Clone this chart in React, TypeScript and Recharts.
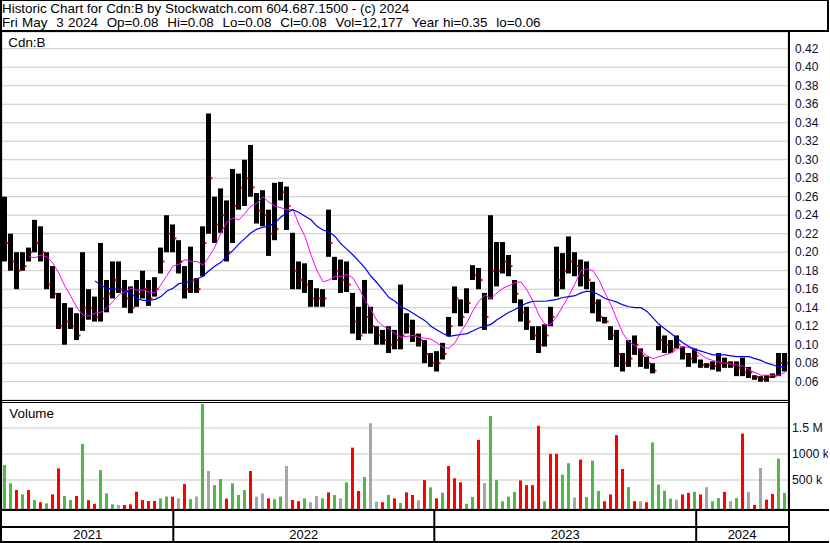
import React from 'react';
import { ComposedChart, Bar, Line, Scatter, XAxis, YAxis, CartesianGrid } from 'recharts';

const FONT = '"Liberation Sans", Arial, sans-serif';

const titleLine = 'Historic Chart for Cdn:B by Stockwatch.com 604.687.1500 - (c) 2024';
const quoteLine = 'Fri May  3 2024  Op=0.08  Hi=0.08  Lo=0.08  Cl=0.08  Vol=12,177  Year hi=0.35  lo=0.06';
const symbolLabel = 'Cdn:B';
const volumeLabel = 'Volume';

const priceHigh = [
  0.26, 0.22, 0.20, 0.20, 0.205, 0.235, 0.228, 0.20, 0.185, 0.156,
  0.145, 0.14, 0.134, 0.20, 0.16, 0.152, 0.21, 0.17, 0.19, 0.19,
  0.17, 0.163, 0.17, 0.18, 0.17, 0.173, 0.205, 0.24, 0.23, 0.213,
  0.185, 0.206, 0.172, 0.228, 0.35, 0.26, 0.269, 0.256, 0.29, 0.285,
  0.30, 0.316, 0.264, 0.267, 0.246, 0.275, 0.276, 0.271, 0.221, 0.19,
  0.188, 0.17, 0.161, 0.16, 0.246, 0.195, 0.192, 0.19, 0.156, 0.141,
  0.17, 0.141, 0.12, 0.116, 0.12, 0.116, 0.165, 0.134, 0.127, 0.112,
  0.105, 0.091, 0.093, 0.102, 0.13, 0.163, 0.149, 0.161, 0.186, 0.183,
  0.156, 0.24, 0.211, 0.211, 0.197, 0.17, 0.149, 0.141, 0.12, 0.12,
  0.122, 0.141, 0.206, 0.199, 0.217, 0.20, 0.192, 0.19, 0.168, 0.149,
  0.13, 0.12, 0.116, 0.091, 0.105, 0.11, 0.096, 0.087, 0.08, 0.12,
  0.11, 0.105, 0.11, 0.098, 0.091, 0.096, 0.084, 0.08, 0.082, 0.091,
  0.086, 0.082, 0.082, 0.086, 0.076, 0.067, 0.066, 0.067, 0.069, 0.091,
  0.091,
];

const priceLow = [
  0.19, 0.18, 0.16, 0.18, 0.19, 0.20, 0.19, 0.16, 0.15, 0.117,
  0.10, 0.117, 0.105, 0.115, 0.127, 0.125, 0.125, 0.135, 0.15, 0.156,
  0.14, 0.134, 0.141, 0.15, 0.142, 0.152, 0.177, 0.20, 0.20, 0.177,
  0.15, 0.156, 0.156, 0.174, 0.22, 0.21, 0.221, 0.19, 0.21, 0.246,
  0.25, 0.26, 0.231, 0.228, 0.196, 0.213, 0.256, 0.224, 0.16, 0.16,
  0.156, 0.141, 0.141, 0.141, 0.195, 0.17, 0.156, 0.157, 0.112, 0.105,
  0.112, 0.112, 0.10, 0.10, 0.091, 0.095, 0.095, 0.112, 0.103, 0.098,
  0.08, 0.076, 0.071, 0.084, 0.109, 0.134, 0.12, 0.134, 0.17, 0.16,
  0.116, 0.149, 0.163, 0.177, 0.174, 0.145, 0.125, 0.116, 0.105, 0.091,
  0.098, 0.12, 0.152, 0.16, 0.177, 0.174, 0.163, 0.16, 0.134, 0.125,
  0.123, 0.105, 0.076, 0.071, 0.076, 0.089, 0.076, 0.074, 0.069, 0.094,
  0.091, 0.091, 0.096, 0.084, 0.076, 0.08, 0.075, 0.075, 0.073, 0.071,
  0.075, 0.075, 0.066, 0.066, 0.064, 0.062, 0.06, 0.06, 0.064, 0.066,
  0.071,
];

const priceClose = [
  0.21, 0.19, 0.18, 0.185, 0.20, 0.21, 0.20, 0.165, 0.155, 0.12,
  0.125, 0.12, 0.11, 0.14, 0.14, 0.13, 0.15, 0.155, 0.17, 0.16,
  0.15, 0.14, 0.155, 0.16, 0.15, 0.16, 0.19, 0.22, 0.215, 0.19,
  0.16, 0.17, 0.16, 0.21, 0.28, 0.23, 0.24, 0.20, 0.25, 0.27,
  0.28, 0.27, 0.245, 0.24, 0.22, 0.225, 0.265, 0.25, 0.18, 0.17,
  0.165, 0.15, 0.15, 0.15, 0.21, 0.18, 0.17, 0.165, 0.125, 0.11,
  0.13, 0.12, 0.11, 0.105, 0.10, 0.105, 0.11, 0.12, 0.11, 0.105,
  0.09, 0.08, 0.08, 0.09, 0.12, 0.15, 0.13, 0.145, 0.175, 0.17,
  0.13, 0.18, 0.18, 0.19, 0.185, 0.155, 0.135, 0.125, 0.11, 0.10,
  0.11, 0.13, 0.17, 0.18, 0.19, 0.185, 0.175, 0.17, 0.145, 0.13,
  0.125, 0.11, 0.09, 0.08, 0.085, 0.10, 0.088, 0.08, 0.072, 0.105,
  0.10, 0.095, 0.10, 0.09, 0.085, 0.088, 0.078, 0.078, 0.077, 0.08,
  0.08, 0.078, 0.075, 0.07, 0.07, 0.065, 0.063, 0.065, 0.066, 0.08,
  0.08,
];

const maFast = [
  null, null, null, null, 0.195, 0.194, 0.197, 0.195, 0.188, 0.177,
  0.163, 0.152, 0.14, 0.132, 0.131, 0.134, 0.135, 0.14, 0.147, 0.154,
  0.157, 0.161, 0.159, 0.159, 0.157, 0.156, 0.165, 0.175, 0.185, 0.187,
  0.192, 0.19, 0.19, 0.186, 0.195, 0.206, 0.221, 0.233, 0.237, 0.235,
  0.242, 0.25, 0.253, 0.26, 0.254, 0.25, 0.248, 0.246, 0.246, 0.23,
  0.217, 0.197, 0.18, 0.168, 0.17, 0.174, 0.174, 0.176, 0.172, 0.161,
  0.148, 0.138, 0.126, 0.12, 0.117, 0.112, 0.108, 0.109, 0.11, 0.108,
  0.107, 0.106, 0.102, 0.097, 0.096, 0.102, 0.114, 0.124, 0.137, 0.147,
  0.154, 0.15, 0.156, 0.161, 0.164, 0.167, 0.168, 0.159, 0.147, 0.132,
  0.122, 0.122, 0.131, 0.142, 0.153, 0.166, 0.18, 0.182, 0.18, 0.17,
  0.156, 0.143, 0.127, 0.112, 0.103, 0.099, 0.093, 0.088, 0.085, 0.087,
  0.089, 0.091, 0.095, 0.098, 0.097, 0.094, 0.089, 0.085, 0.083, 0.081,
  0.08, 0.079, 0.078, 0.077, 0.073, 0.07, 0.067, 0.067, 0.067, 0.067,
  0.07,
];

const maSlow = [
  null, null, null, null, null, null, null, null, null, null,
  null, null, null, null, null, 0.169, 0.164, 0.161, 0.16, 0.16,
  0.159, 0.155, 0.15, 0.148, 0.148, 0.149, 0.152, 0.158, 0.161, 0.166,
  0.167, 0.169, 0.171, 0.174, 0.18, 0.185, 0.189, 0.196, 0.202, 0.209,
  0.215, 0.221, 0.225, 0.227, 0.228, 0.232, 0.238, 0.243, 0.246, 0.243,
  0.239, 0.235, 0.228, 0.224, 0.222, 0.217, 0.209, 0.203, 0.197, 0.19,
  0.183, 0.174, 0.167, 0.159, 0.151, 0.147, 0.141, 0.138, 0.134, 0.13,
  0.126, 0.12, 0.116, 0.112, 0.109, 0.11, 0.111, 0.112, 0.115, 0.118,
  0.12, 0.122, 0.127, 0.131, 0.135, 0.138, 0.142, 0.145, 0.147, 0.147,
  0.147, 0.148, 0.149, 0.151, 0.152, 0.153, 0.156, 0.158, 0.157, 0.154,
  0.15, 0.148, 0.146, 0.143, 0.141, 0.14, 0.14, 0.136, 0.129, 0.122,
  0.117, 0.112, 0.107, 0.102, 0.098, 0.095, 0.093, 0.091, 0.089, 0.089,
  0.089, 0.088, 0.087, 0.087, 0.087, 0.085, 0.083, 0.08, 0.078, 0.076,
  0.076,
];

// volume in thousands of shares
const volumeK = [
  790, 436, 307, 224, 307, 115, 72, 51, 224, 724,
  192, 115, 192, 1192, 112, 42, 692, 242, 32, 20,
  20, 32, 275, 115, 96, 96, 147, 182, 179, 147,
  422, 132, 182, 1962, 672, 402, 519, 142, 436, 212,
  307, 672, 179, 242, 147, 132, 182, 769, 115, 92,
  147, 72, 192, 147, 262, 212, 147, 455, 1122, 288,
  557, 1592, 82, 72, 212, 147, 57, 262, 212, 109,
  499, 359, 147, 256, 769, 532, 455, 42, 172, 1272,
  442, 1732, 499, 92, 179, 269, 492, 402, 402, 1542,
  92, 1002, 1002, 602, 822, 162, 892, 172, 872, 292,
  92, 222, 1362, 712, 362, 92, 92, 72, 1222, 412,
  292, 142, 122, 222, 252, 272, 222, 362, 92, 152,
  272, 92, 152, 1392, 272, 22, 732, 122, 232, 912,
  252,
];

// g = up day, r = down day, x = unchanged
const volumeDir = [
  'g', 'g', 'r', 'g', 'r', 'g', 'r', 'g', 'r', 'r',
  'g', 'g', 'r', 'g', 'r', 'r', 'g', 'g', 'g', 'x',
  'r', 'r', 'r', 'r', 'r', 'r', 'g', 'g', 'r', 'x',
  'r', 'g', 'x', 'g', 'x', 'g', 'g', 'r', 'g', 'g',
  'g', 'r', 'x', 'x', 'r', 'g', 'g', 'x', 'r', 'r',
  'g', 'x', 'x', 'g', 'r', 'g', 'x', 'g', 'r', 'r',
  'g', 'x', 'x', 'r', 'g', 'r', 'g', 'r', 'r', 'x',
  'r', 'g', 'r', 'g', 'r', 'r', 'r', 'g', 'g', 'r',
  'x', 'g', 'g', 'g', 'g', 'g', 'r', 'r', 'r', 'r',
  'g', 'r', 'r', 'g', 'g', 'x', 'r', 'g', 'g', 'g',
  'r', 'r', 'r', 'r', 'g', 'r', 'x', 'r', 'g', 'g',
  'g', 'g', 'x', 'r', 'r', 'g', 'r', 'x', 'g', 'g',
  'r', 'x', 'g', 'r', 'x', 'r', 'x', 'r', 'r', 'g',
  'g',
];

const priceTicks = [0.06, 0.08, 0.10, 0.12, 0.14, 0.16, 0.18, 0.20, 0.22, 0.24, 0.26, 0.28, 0.30, 0.32, 0.34, 0.36, 0.38, 0.40, 0.42];
const volumeTicks = [500, 1000, 1500];
const yearBoundaries = [28.05, 71.55, 115.2];
const yearLabels = ['2021', '2022', '2023', '2024'];

const DIR_COLORS: Record<string, string> = { g: '#4fb848', r: '#ff0000', x: '#a6a6a6' };
const GRID = '#c8c8c8';
const TICK_COLOR = '#0c0c2c';

const N = priceHigh.length;
const X_DOMAIN: [number, number] = [-0.5, N - 0.5];

const labelPositions = yearLabels.map((_, k) => {
  const a = k === 0 ? X_DOMAIN[0] : yearBoundaries[k - 1];
  const b = k === yearBoundaries.length ? X_DOMAIN[1] : yearBoundaries[k];
  return (a + b) / 2;
});

const priceRows = priceHigh.map((h, i) => ({
  i,
  range: [priceLow[i], h],
  close: priceClose[i],
  fast: maFast[i],
  slow: maSlow[i],
}));

const volRows = volumeK.map((v, i) => ({ i, vol: v, dir: volumeDir[i] }));

const CloseMark = (p: any) => {
  if (p.cx == null || p.cy == null) return null;
  return <rect x={p.cx + 1.5} y={p.cy - 1} width={2} height={2} fill="#ff0000" />;
};

const VolBar = (p: any) => {
  if (p.x == null || p.height == null) return null;
  const c = DIR_COLORS[p.payload?.dir] || '#a6a6a6';
  return <rect x={p.x} y={p.y} width={p.width} height={Math.max(0, p.height) + 3} fill={c} />;
};

const YearTick = (p: any) => {
  const v = p.payload?.value;
  const b = yearBoundaries.indexOf(v);
  if (b >= 0) {
    return <rect x={p.x - 1} y={108} width={2} height={31} fill="#000" />;
  }
  const l = labelPositions.indexOf(v);
  if (l >= 0) {
    return (
      <text x={p.x} y={137} textAnchor="middle" fontSize={13} fontFamily={FONT} fill="#000">
        {yearLabels[l]}
      </text>
    );
  }
  return null;
};

const volFormat = (v: number) => (v >= 1500 ? `${v / 1000} M` : `${v} k`);

const makeAxisTick = (fmt: (v: number) => string, size: number) => (p: any) => (
  <text
    x={p.x}
    y={p.y}
    dy="0.355em"
    textAnchor="start"
    fontSize={size}
    fontFamily={FONT}
    fill={TICK_COLOR}
  >
    {fmt(p.payload.value)}
  </text>
);

const PriceTick = makeAxisTick((v) => v.toFixed(2), 12);
const VolTick = makeAxisTick(volFormat, 12.3);

const headerStyle: React.CSSProperties = {
  position: 'absolute',
  left: 2,
  fontSize: 13.4,
  lineHeight: '14px',
  whiteSpace: 'pre',
  color: '#000',
  fontFamily: FONT,
};

export default function App() {
  return (
    <div
      style={{
        position: 'fixed',
        left: 0,
        top: 0,
        width: 830,
        height: 543,
        background: '#fff',
        overflow: 'hidden',
        fontFamily: FONT,
      }}
    >
      <div style={{ ...headerStyle, top: 1.7 }}>{titleLine}</div>
      <div style={{ ...headerStyle, top: 15.7, wordSpacing: '0.7px' }}>{quoteLine}</div>

      <div style={{ position: 'absolute', left: 2, top: 32 }}>
        <ComposedChart width={826} height={368} data={priceRows} margin={{ top: 0, right: 0, bottom: 0, left: 0 }}>
          <CartesianGrid stroke={GRID} strokeWidth={1} />
          <XAxis
            dataKey="i"
            type="number"
            domain={X_DOMAIN}
            ticks={yearBoundaries}
            interval={0}
            height={0}
            tick={false}
            axisLine={false}
            tickLine={false}
            allowDataOverflow
          />
          <YAxis
            orientation="right"
            width={40}
            domain={[0.0402, 0.4381]}
            ticks={priceTicks}
            interval={0}
            allowDataOverflow
            axisLine={false}
            tickLine={false}
            tickSize={5}
            tickMargin={2}
            tick={PriceTick}
          />
          <Bar dataKey="range" barSize={5} fill="#000" isAnimationActive={false} />
          <Scatter dataKey="close" shape={CloseMark} isAnimationActive={false} />
          <Line dataKey="fast" stroke="#ff00ff" strokeWidth={1} dot={false} connectNulls isAnimationActive={false} />
          <Line dataKey="slow" stroke="#0000f0" strokeWidth={1.2} dot={false} connectNulls isAnimationActive={false} />
        </ComposedChart>
      </div>

      <div style={{ position: 'absolute', left: 2, top: 402 }}>
        <ComposedChart width={826} height={141} data={volRows} margin={{ top: 0, right: 0, bottom: 0, left: 0 }}>
          <CartesianGrid stroke={GRID} strokeWidth={1} xAxisId="grid" />
          <XAxis
            xAxisId="grid"
            dataKey="i"
            type="number"
            domain={X_DOMAIN}
            ticks={yearBoundaries}
            interval={0}
            height={0}
            tick={false}
            axisLine={false}
            tickLine={false}
            allowDataOverflow
          />
          <XAxis
            xAxisId="years"
            dataKey="i"
            type="number"
            domain={X_DOMAIN}
            ticks={[...yearBoundaries, ...labelPositions]}
            interval={0}
            height={34}
            tick={YearTick}
            axisLine={false}
            tickLine={false}
            allowDataOverflow
          />
          <YAxis
            orientation="right"
            width={40}
            domain={[-57.7, 2000]}
            ticks={volumeTicks}
            interval={0}
            allowDataOverflow
            axisLine={false}
            tickLine={false}
            tickSize={4}
            tickMargin={0}
            tick={VolTick}
          />
          <Bar xAxisId="grid" dataKey="vol" barSize={3} shape={VolBar} isAnimationActive={false} />
        </ComposedChart>
      </div>

      <svg
        width={830}
        height={543}
        style={{ position: 'absolute', left: 0, top: 0, pointerEvents: 'none' }}
      >
        <text x={8.3} y={46.7} fontSize={13.4} fontFamily={FONT} fill="#000">
          {symbolLabel}
        </text>
        <text x={9.3} y={418.3} fontSize={13.4} fontFamily={FONT} fill="#000">
          {volumeLabel}
        </text>
        <rect x={0} y={0} width={829} height={1} fill="#000" />
        <rect x={0} y={0} width={2} height={543} fill="#000" />
        <rect x={827} y={0} width={2} height={32} fill="#000" />
        <rect x={0} y={30} width={829} height={2} fill="#000" />
        <rect x={788} y={32} width={2} height={511} fill="#000" />
        <rect x={0} y={400} width={788} height={1} fill="#000" />
        <rect x={0} y={402} width={788} height={1} fill="#000" />
        <rect x={0} y={509} width={829} height={2} fill="#000" />
        <rect x={0} y={526} width={788} height={2} fill="#000" />
        <rect x={0} y={541} width={829} height={2} fill="#000" />
      </svg>
    </div>
  );
}
